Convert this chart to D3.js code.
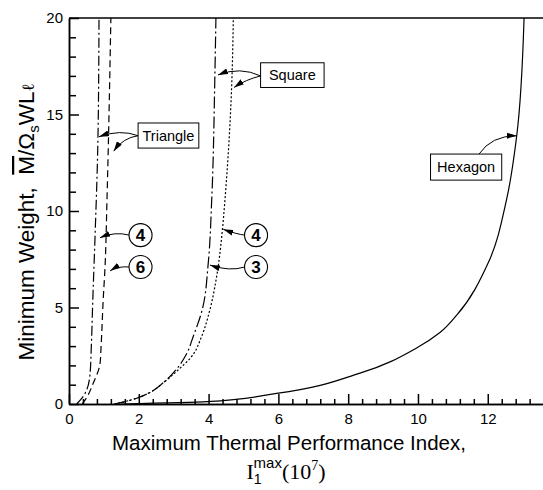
<!DOCTYPE html>
<html>
<head>
<meta charset="utf-8">
<script src="https://cdn.jsdelivr.net/npm/d3@7.9.0/dist/d3.min.js"></script>
<style>
  body { margin: 0; background: #fff; }
  svg { display: block; font-family: "Liberation Sans", Arial, sans-serif; }
  .axis path, .axis line { stroke: #000; stroke-width: 1.5; }
  .axis text { font-size: 15px; fill: #000; }
  .curve { fill: none; stroke: #000; stroke-width: 1.2; }
  .note { fill: none; stroke: #000; stroke-width: 1; }
</style>
</head>
<body>
<svg id="chart" width="543" height="490"></svg>
<script>
// curves are read as x at given weight levels (nearly vertical lines)
const triangle4Y = [0, 0.55, 1.5, 3, 5.3, 8.6, 13.8, 20];
const triangle4X = [0.22, 0.46, 0.6, 0.64, 0.68, 0.745, 0.83, 0.86];

const triangle6Y = [0, 0.2, 1.1, 2.1, 3, 5.4, 7, 10.7, 20];
const triangle6X = [0.38, 0.46, 0.7, 0.89, 0.92, 0.98, 1.03, 1.09, 1.2];

const square3Y = [0, 0.1, 0.3, 0.6, 1.1, 1.8, 2.6, 3.5, 4.9, 7.3, 10.6, 17, 20];
const square3X = [1.3, 1.55, 1.94, 2.32, 2.7, 3.08, 3.37, 3.56, 3.82, 3.99, 4.09, 4.18, 4.21];

const square4Y = [0, 0.1, 0.3, 0.6, 1.1, 1.8, 2.45, 3.5, 4.9, 6.6, 9.1, 10.6, 16.4, 20];
const square4X = [1.3, 1.55, 1.94, 2.32, 2.7, 3.15, 3.51, 3.8, 4.04, 4.23, 4.4, 4.47, 4.66, 4.71];

const hexagonY = [0, 0.12, 0.55, 1.6, 2.9, 3.7, 4.6, 7.3, 10.6, 13.9, 20];
const hexagonX = [1.5, 3.95, 5.95, 8.34, 9.96, 10.63, 11.11, 12.01, 12.54, 12.83, 13.04];

const xMajorTicks = [0, 2, 4, 6, 8, 10, 12];
const yMajorTicks = [0, 5, 10, 15, 20];

const svg = d3.select('#chart');
const x = d3.scaleLinear().domain([0, 13.6]).range([69, 543.6]);
const y = d3.scaleLinear().domain([0, 20]).range([404, 18]);

// minor ticks
const xMinor = d3.range(0, 13.61, 0.4).filter((v) => Math.abs(v / 2 - Math.round(v / 2)) > 0.01);
const yMinor = d3.range(0, 20.01, 1).filter((v) => v % 5 !== 0);

svg.append('g')
  .attr('class', 'axis')
  .attr('transform', `translate(0,${y(0)})`)
  .call(d3.axisBottom(x).tickValues(xMinor).tickSize(-5).tickSizeOuter(0).tickFormat(''));

svg.append('g')
  .attr('class', 'axis')
  .attr('transform', `translate(0,${y(0)})`)
  .call(d3.axisBottom(x).tickValues(xMajorTicks).tickSize(-10).tickSizeOuter(0).tickPadding(9).tickFormat(d3.format('d')));

svg.append('g')
  .attr('class', 'axis')
  .attr('transform', `translate(${x(0)},0)`)
  .call(d3.axisLeft(y).tickValues(yMinor).tickSize(-7).tickSizeOuter(0).tickFormat(''));

svg.append('g')
  .attr('class', 'axis')
  .attr('transform', `translate(${x(0)},0)`)
  .call(d3.axisLeft(y).tickValues(yMajorTicks).tickSize(-10).tickSizeOuter(0).tickPadding(6).tickFormat(d3.format('d')));

// top frame line
svg.append('line')
  .attr('x1', x(0)).attr('x2', 543)
  .attr('y1', y(20)).attr('y2', y(20))
  .attr('stroke', '#000').attr('stroke-width', 1.5);

const line = d3.line()
  .x((d) => x(d[0]))
  .y((d) => y(d[1]))
  .curve(d3.curveMonotoneY);

const series = [
  { xs: triangle4X, ys: triangle4Y, dash: '10,3,2,3' },
  { xs: triangle6X, ys: triangle6Y, dash: '7,4' },
  { xs: square3X, ys: square3Y, dash: '12,3,2,3' },
  { xs: square4X, ys: square4Y, dash: '2,2' },
  { xs: hexagonX, ys: hexagonY, dash: null },
];

series.forEach((s) => {
  svg.append('path')
    .datum(s.xs.map((v, i) => [v, s.ys[i]]))
    .attr('class', 'curve')
    .attr('stroke-dasharray', s.dash)
    .attr('d', line);
});

// arrowhead
svg.append('defs').append('marker')
  .attr('id', 'arrow')
  .attr('viewBox', '0 0 10 6')
  .attr('refX', 10).attr('refY', 3)
  .attr('markerWidth', 10).attr('markerHeight', 6)
  .attr('markerUnits', 'userSpaceOnUse')
  .attr('orient', 'auto')
  .append('path')
  .attr('d', 'M0,0L10,3L0,6Z')
  .attr('fill', '#000');

function arrow(p0, c, p1) {
  svg.append('path')
    .attr('class', 'note')
    .attr('marker-end', 'url(#arrow)')
    .attr('d', `M${x(p0[0])},${y(p0[1])}Q${x(c[0])},${y(c[1])} ${x(p1[0])},${y(p1[1])}`);
}

function box(label, x0, y0, x1, y1) {
  svg.append('rect')
    .attr('x', x(x0)).attr('y', y(y0))
    .attr('width', x(x1) - x(x0)).attr('height', y(y1) - y(y0))
    .attr('fill', '#fff').attr('stroke', '#000').attr('stroke-width', 1);
  svg.append('text')
    .attr('x', (x(x0) + x(x1)) / 2).attr('y', (y(y0) + y(y1)) / 2 + 5)
    .attr('text-anchor', 'middle')
    .attr('font-size', 14.5)
    .text(label);
}

function circle(label, cx, cy) {
  svg.append('circle')
    .attr('cx', x(cx)).attr('cy', y(cy)).attr('r', 11.5)
    .attr('fill', '#fff').attr('stroke', '#000').attr('stroke-width', 1.1);
  svg.append('text')
    .attr('x', x(cx)).attr('y', y(cy) + 6)
    .attr('text-anchor', 'middle')
    .attr('font-size', 17).attr('font-weight', 'bold')
    .text(label);
}

// Triangle
arrow([1.98, 13.9], [1.47, 14.25], [0.86, 13.85]);
arrow([1.98, 13.9], [1.55, 13.8], [1.28, 13.1]);
box('Triangle', 1.98, 14.56, 3.72, 13.26);

// Square
arrow([5.49, 17.0], [4.9, 17.5], [4.27, 17.05]);
arrow([5.49, 17.0], [5.05, 16.8], [4.73, 16.4]);
box('Square', 5.49, 17.68, 7.31, 16.4);

// Hexagon
arrow([11.75, 12.95], [12.1, 13.9], [12.83, 13.9]);
box('Hexagon', 10.36, 12.95, 12.4, 11.6);

// circled numbers
arrow([1.73, 8.75], [1.32, 8.95], [0.89, 8.62]);
circle('4', 2.05, 8.75);
arrow([1.73, 7.1], [1.4, 7.15], [1.18, 6.9]);
circle('6', 2.05, 7.1);

arrow([5.04, 8.75], [4.8, 8.8], [4.42, 9.05]);
circle('4', 5.36, 8.75);
arrow([5.04, 7.1], [4.6, 6.85], [4.04, 7.2]);
circle('3', 5.36, 7.1);

// x axis title
svg.append('text')
  .attr('x', 289).attr('y', 450)
  .attr('text-anchor', 'middle')
  .attr('font-size', 20.5)
  .text('Maximum Thermal Performance Index,');

const t2 = svg.append('text')
  .attr('x', 286).attr('y', 479)
  .attr('text-anchor', 'middle')
  .attr('font-size', 22);
t2.append('tspan').attr('font-family', '"Liberation Serif", serif').text('I');
t2.append('tspan').attr('font-size', 14).attr('dy', 5).text('1');
t2.append('tspan').attr('font-size', 15).attr('dx', -8).attr('dy', -16).text('max');
t2.append('tspan').attr('font-family', '"Liberation Serif", serif').attr('dy', 11).text('(10');
t2.append('tspan').attr('font-family', '"Liberation Serif", serif').attr('font-size', 14).attr('dy', -9).text('7');
t2.append('tspan').attr('font-family', '"Liberation Serif", serif').attr('dy', 9).text(')');

// y axis title
const yt = svg.append('text')
  .attr('transform', 'translate(34,222) rotate(-90)')
  .attr('text-anchor', 'middle')
  .attr('font-size', 22.5)
  .style('white-space', 'pre');
yt.append('tspan').text('Minimum Weight,  ');
yt.append('tspan').attr('text-decoration', 'overline').text('M');
yt.append('tspan').text('/Ω');
yt.append('tspan').attr('font-size', 15).attr('dy', 5).text('s');
yt.append('tspan').attr('dy', -5).text('WL');
yt.append('tspan').attr('font-family', '"DejaVu Serif", serif').attr('font-size', 17).text('ℓ');
</script>
</body>
</html>
